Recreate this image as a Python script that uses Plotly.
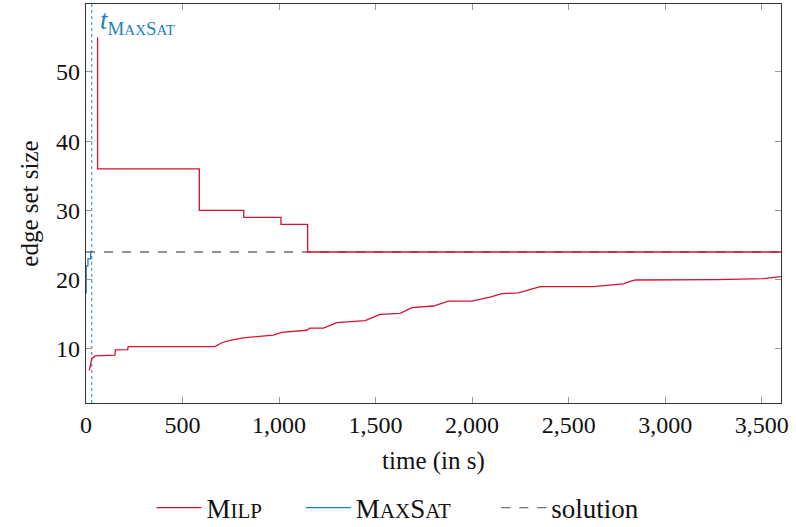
import plotly.graph_objects as go

# ---- data ----
milp_upper_t = [60, 60, 587, 817, 1010, 1148, 3600]
milp_upper_v = [55, 36, 30, 29, 28, 24, 24]

milp_lower_t = [17, 30, 47, 150, 152, 216, 218, 668, 703, 746, 815, 893, 970, 1014, 1143, 1160,
                1230, 1299, 1446, 1489, 1523, 1627, 1644, 1688, 1800, 1877, 1998, 2093, 2154,
                2240, 2335, 2352, 2628, 2784, 2810, 2845, 3268, 3510, 3600]
milp_lower_v = [6.9, 8.6, 9.0, 9.1, 9.86, 9.9, 10.35, 10.35, 10.9, 11.25, 11.6, 11.8, 12.0, 12.4, 12.7, 13.0,
                13.0, 13.8, 14.1, 14.6, 15.0, 15.15, 15.4, 15.97, 16.2, 16.9, 16.9, 17.5, 18.0,
                18.1, 18.86, 19.0, 19.0, 19.4, 19.7, 19.96, 20.0, 20.16, 20.45]

maxsat_t = [1, 1, 10, 24, 30]
maxsat_v = [18, 22, 23, 24, 24]

solution_value = 24
t_maxsat = 30

x_ticks = [0, 500, 1000, 1500, 2000, 2500, 3000, 3500]
x_tick_labels = ["0", "500", "1,000", "1,500", "2,000", "2,500", "3,000", "3,500"]
y_ticks = [10, 20, 30, 40, 50]

RED = "#d2142f"
BLUE = "#1f7fc4"
GRAY = "#707070"
FONT = "Liberation Serif"
Y_RANGE = [2.2, 59.8]


def sc(s, px):
    return f"<span style='font-size:{px}px'>{s}</span>"


fig = go.Figure()

fig.add_trace(go.Scatter(x=[t_maxsat, t_maxsat], y=Y_RANGE, mode="lines",
                         line=dict(color=BLUE, width=1, dash="dot"), showlegend=False,
                         hoverinfo="skip"))
fig.add_trace(go.Scatter(x=[0, 3600], y=[solution_value, solution_value], mode="lines",
                         line=dict(color=GRAY, width=1.4, dash="dash"), showlegend=False))
fig.add_trace(go.Scatter(x=milp_upper_t, y=milp_upper_v, mode="lines", line_shape="hv",
                         line=dict(color=RED, width=1.3),
                         name="M" + sc("ILP", 21) + "&nbsp;" * 5,
                         legendgroup="milp", legendrank=1))
fig.add_trace(go.Scatter(x=milp_lower_t, y=milp_lower_v, mode="lines",
                         line=dict(color=RED, width=1.3), showlegend=False, legendgroup="milp"))
fig.add_trace(go.Scatter(x=maxsat_t, y=maxsat_v, mode="lines", line_shape="hv",
                         line=dict(color=BLUE, width=1.3),
                         name="M" + sc("AX", 21) + "S" + sc("AT", 21) + "&nbsp;" * 6,
                         legendrank=2))
fig.add_trace(go.Scatter(x=[None], y=[None], mode="lines",
                         line=dict(color=GRAY, width=1.4, dash="dash"), name="solution",
                         legendrank=3))

fig.add_annotation(x=t_maxsat, y=57.2, xref="x", yref="y", xanchor="left", xshift=6,
                   text="<i>t</i><sub>M" + sc("AX", 15) + "S" + sc("AT", 15) + "</sub>",
                   showarrow=False, font=dict(color=BLUE, size=27, family=FONT))

axis_common = dict(showline=True, linecolor="#333", linewidth=1.2, mirror="ticks",
                   ticks="inside", ticklen=6, tickcolor="#999", tickwidth=1,
                   showgrid=False, zeroline=False,
                   tickfont=dict(size=24, family=FONT, color="#111"))

fig.update_layout(
    width=796, height=527,
    margin=dict(l=86, r=15, t=4, b=124),
    paper_bgcolor="white", plot_bgcolor="white",
    font=dict(family=FONT, size=24, color="#111"),
    xaxis=dict(range=[0, 3600], tickvals=x_ticks, ticktext=x_tick_labels,
               title=dict(text="time (in s)", font=dict(size=25, family=FONT), standoff=14),
               **axis_common),
    yaxis=dict(range=Y_RANGE, tickvals=y_ticks,
               title=dict(text="edge set size", font=dict(size=25, family=FONT), standoff=10),
               **axis_common),
    legend=dict(orientation="h", x=0.5, xanchor="center", xref="container",
                y=0.036, yanchor="middle", yref="container",
                font=dict(size=27, family=FONT), itemwidth=45, tracegroupgap=0,
                bgcolor="rgba(0,0,0,0)"),
    showlegend=True,
)

fig.write_html("out.html", config={"displayModeBar": False},
               post_script="document.body.style.margin='0';document.body.style.padding='0';")
